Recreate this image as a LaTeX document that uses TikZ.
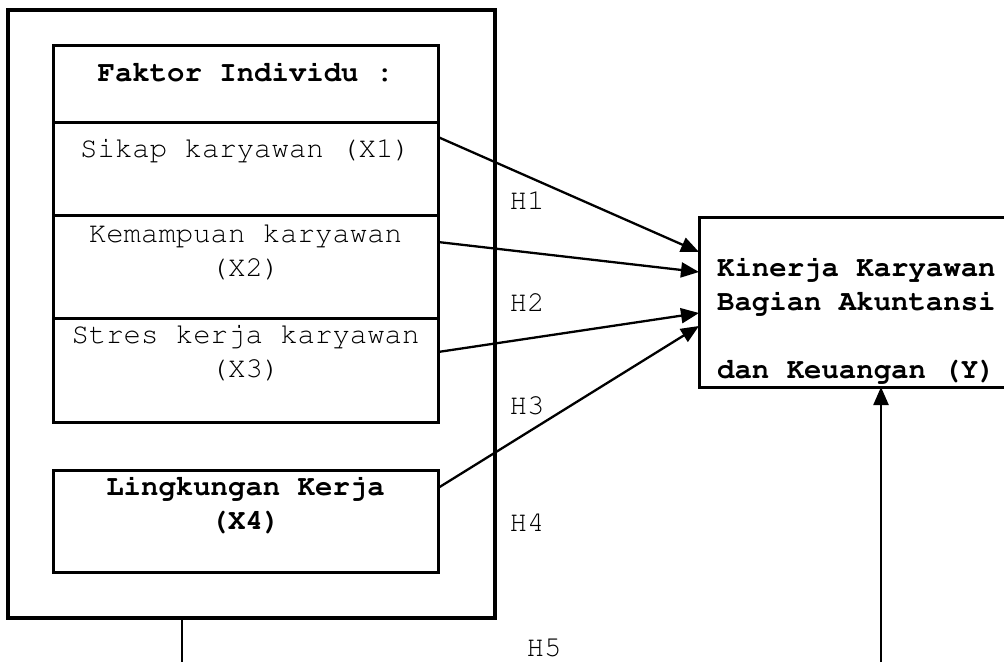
\documentclass[tikz,border=0pt]{standalone}
\usepackage[T1]{fontenc}
\usepackage{courier}
\usetikzlibrary{arrows.meta}

\tikzset{
  caja/.style={draw, line width=3pt, minimum width=385pt, outer sep=0pt, inner sep=0pt},
  texto/.style={font=\ttfamily\fontsize{29}{34}\selectfont, align=center, inner sep=0pt},
  textob/.style={font=\ttfamily\bfseries\fontsize{29}{34}\selectfont, align=center, inner sep=0pt},
  hip/.style={font=\ttfamily\fontsize{29}{34}\selectfont, inner sep=0pt},
}

\begin{document}
\begin{tikzpicture}[x=1pt, y=-1pt, >={Triangle[length=18pt, width=15pt]}, line width=2.3pt]
  \useasboundingbox (0,0) rectangle (1004,662);
  \clip (0,0) rectangle (1004,662);
  % caja exterior
  \node[caja, line width=3.4pt, minimum width=487pt, minimum height=608pt] (ext) at (251.5,314) {};
  % faktor individu y sus filas
  \node[caja, minimum height=77pt] (fi) at (245.5,83.5) {};
  \node[caja, minimum height=93pt] (x1) at (245.5,168.5) {};
  \node[caja, minimum height=103pt] (x2) at (245.5,266.5) {};
  \node[caja, minimum height=104pt] (x3) at (245.5,370) {};
  \node[caja, minimum height=102pt] (x4) at (245.5,521) {};
  \node[textob] (fit) at (245.5,72) {Faktor Individu :};
  \node[texto] (x1t) at (245.5,150) {Sikap karyawan (X1)};
  \node[texto] (x2t) at (245.5,252) {Kemampuan karyawan\\(X2)};
  \node[texto] (x3t) at (245.5,352.5) {Stres kerja karyawan\\(X3)};
  \node[textob] (x4t) at (245.5,504) {Lingkungan Kerja\\(X4)};
  % variable Y
  \node[caja, minimum width=311pt, minimum height=170pt] (y) at (854.5,302) {};
  \node[textob, align=left, anchor=west] (yt) at (716,320) {Kinerja Karyawan\\Bagian Akuntansi\\[34pt]dan Keuangan (Y)};
  % hipotesis
  \draw[->] ([yshift=31.5pt]x1.east) -- ([yshift=50pt]y.west);
  \draw[->] ([yshift=24.5pt]x2.east) -- ([yshift=30pt]y.west);
  \draw[->] ([yshift=18pt]x3.east) -- ([yshift=-11pt]y.west);
  \draw[->] ([yshift=33pt]x4.east) -- ([yshift=-24pt]y.west);
  \node[hip] (h1) at (527,200) {H1};
  \node[hip] (h2) at (527,302) {H2};
  \node[hip] (h3) at (527,405) {H3};
  \node[hip] (h4) at (527,522) {H4};
  \node[hip] (h5) at (544,648) {H5};
  % lineas de abajo
  \coordinate (ybawah) at (881,662);
  \draw[->] (ybawah) -- (ybawah |- y.south);
  \coordinate (ebawah) at (182,662);
  \draw (ext.south -| ebawah) -- (ebawah);
\end{tikzpicture}
\end{document}
